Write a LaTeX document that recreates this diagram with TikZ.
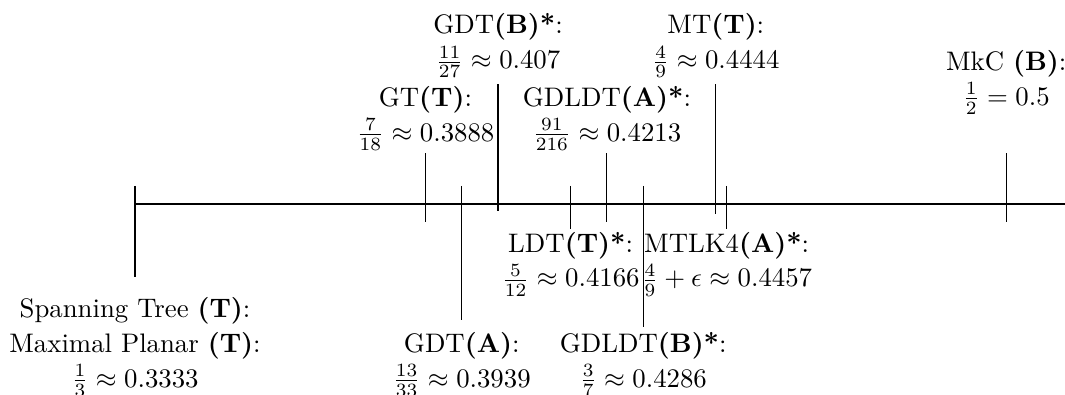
\documentclass[tikz,border=0pt]{standalone}

\begin{document}
\begin{tikzpicture}[x=0.4763cm,y=0.4763cm,
  lbl/.style={anchor=north,align=center,font=\setlength\baselineskip{13pt}}]
  \useasboundingbox (-3.72,-5.234) rectangle (25.62,5.62);
  \draw [thick] (0,0)--(25.62,0);
  \foreach \x/\t/\b in {0/0.5/-2.02, 8/1.4/-0.5, 9/0.5/-3.2, 10/3.3/-0.18, 12/0.5/-0.69,
      13/1.4/-0.5, 14/0.5/-3.38, 16/3.3/-0.28, 16.3/0.5/-0.7, 24/1.4/-0.5}
    \draw (\x,\t)--(\x,\b);
  % labels below the line
  \node [lbl] (st) at (0,-2.32) {Spanning Tree \textbf{(T)}:\\Maximal Planar \textbf{(T)}:\\$\frac{1}{3}\approx 0.3333$};
  \node [lbl] (gdta) at (9,-3.27) {GDT\textbf{(A)}:\\$\frac{13}{33}\approx 0.3939$};
  \node [lbl] (ldt) at (12,-0.51) {LDT\textbf{(T)*}:\\$\frac{5}{12}\approx 0.4166$};
  \node [lbl] (gdldtb) at (14,-3.27) {GDLDT\textbf{(B)*}:\\$\frac{3}{7}\approx 0.4286$};
  \node [lbl] (mtlk) at (16.3,-0.51) {MTLK4\textbf{(A)*}:\\$\frac{4}{9}+\epsilon\approx 0.4457$};
  % labels above the line
  \node [lbl] (gt) at (8,3.5) {GT\textbf{(T)}:\\$\frac{7}{18}\approx 0.3888$};
  \node [lbl] (gdtb) at (10,5.5) {GDT\textbf{(B)*}:\\$\frac{11}{27}\approx 0.407$};
  \node [lbl] (gdldta) at (13,3.5) {GDLDT\textbf{(A)*}:\\$\frac{91}{216}\approx 0.4213$};
  \node [lbl] (mt) at (16,5.5) {MT\textbf{(T)}:\\$\frac{4}{9}\approx 0.4444$};
  \node [lbl] (mkc) at (24,4.49) {MkC \textbf{(B)}:\\$\frac{1}{2}=0.5$};
\end{tikzpicture}
\end{document}
